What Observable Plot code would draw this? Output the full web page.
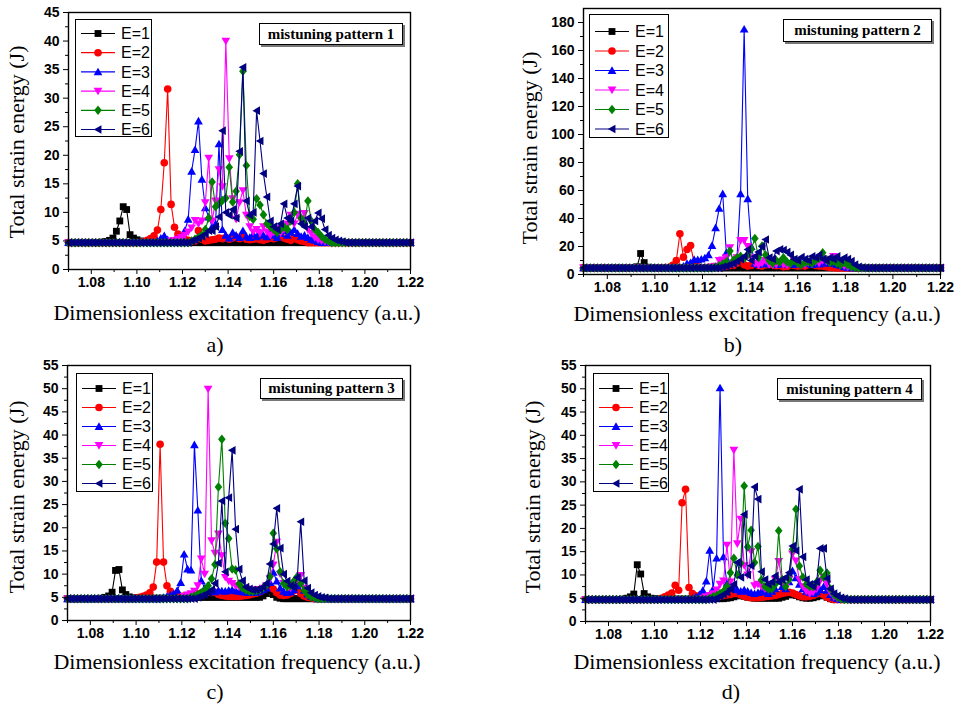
<!DOCTYPE html>
<html><head><meta charset="utf-8">
<script src="https://cdn.jsdelivr.net/npm/d3@7"></script>
<script src="https://cdn.jsdelivr.net/npm/@observablehq/plot@0.6"></script>
<style>
body{margin:0;background:#fff;}
#root{position:relative;width:961px;height:708px;overflow:hidden;background:#fff;}
.abs{position:absolute;}
.ttl{position:absolute;font-family:"Liberation Serif","Times New Roman",serif;font-size:22px;color:#000;white-space:nowrap;transform:translate(-50%,-50%);line-height:1;}
.ytl{transform:translate(-50%,-50%) rotate(-90deg);}
.tag{position:absolute;box-sizing:border-box;font-family:"Liberation Serif","Times New Roman",serif;font-weight:bold;font-size:15px;border:1.3px solid #000;box-shadow:2px 2px 0 #777;background:#fff;display:flex;align-items:center;justify-content:center;white-space:nowrap;}
.leg{position:absolute;box-sizing:border-box;border:1.3px solid #000;background:#fff;}
</style></head><body><div id="root"></div>
<script>
// ---------- data ----------
// frequency sweep: 1.07 → 1.22, step 0.0015 (101 samples)
const fStart = 1.07, fStep = 0.0015, nSamples = 101;
const baseline = 4.7;   // flat response far from resonance
const seriesNames = ["E=1","E=2","E=3","E=4","E=5","E=6"];
const colors = ["#000000","#ff0000","#0000ff","#ff00ff","#008000","#000080"];
const xTicks = [1.08,1.10,1.12,1.14,1.16,1.18,1.20,1.22];
const xMinor = [1.07,1.09,1.11,1.13,1.15,1.17,1.19,1.21];
const yTicks45 = [0,5,10,15,20,25,30,35,40,45];
const yMinor45 = [2.5,7.5,12.5,17.5,22.5,27.5,32.5,37.5,42.5];
const yTicks180 = [0,20,40,60,80,100,120,140,160,180];
const yMinor180 = [10,30,50,70,90,110,130,150,170];
const yTicks55 = [0,5,10,15,20,25,30,35,40,45,50,55];
const yMinor55 = [2.5,7.5,12.5,17.5,22.5,27.5,32.5,37.5,42.5,47.5,52.5];

// panel a (mistuning pattern 1): sample index where each series window starts
const aStart = [10, 22, 26, 30, 36, 36];
const aE1 = [4.8,4.9,5.1,5.5,6.7,8.5,11.0,10.5,6.1,5.5,5.2,5.0,4.9];
const aE2 = [4.9,5.1,5.4,5.9,6.9,10.5,18.7,31.6,11.4,7.4,6.2,5.6,5.3,5.1,5.0,5.0,6.8,5.3,5.0,5.1,5.2,5.3,5.5,5.4,5.6,5.3,5.5,5.7,5.4,5.6,5.3,5.2,5.3,5.4,5.2,5.1,5.3,5.5,5.4,5.6,5.8,5.5,5.3,5.1,5.6,5.2,5.0,4.9];
const aE3 = [5.0,5.5,5.9,5.2,5.0,5.0,5.2,5.5,6.8,8.8,17.2,21.0,26.0,15.8,10.8,9.2,7.5,8.0,22.0,7.0,6.0,5.5,6.5,6.0,5.6,6.8,5.8,5.6,6.2,5.7,6.5,6.0,5.7,6.5,6.0,5.6,6.3,6.8,6.0,6.5,7.0,6.3,5.8,6.0,5.6,5.3,5.1,4.9];
const aE4 = [5.0,5.1,5.3,5.6,6.0,6.6,7.3,8.6,8.0,8.5,11.7,19.5,8.5,12.0,17.5,14.5,40.0,19.4,12.4,8.8,11.7,13.8,9.5,7.5,6.6,7.0,6.4,7.5,6.6,6.0,6.5,7.2,6.4,7.0,8.0,9.5,8.0,9.7,8.5,9.8,7.0,6.3,5.6,5.2,5.0,4.9];
const aE5 = [5.0,5.3,5.6,6.0,7.0,9.0,15.3,11.0,11.5,12.1,12.5,17.9,11.8,13.7,20.1,34.7,18.2,9.3,8.8,12.4,11.3,9.6,8.0,7.5,7.0,6.5,7.0,7.5,7.0,8.5,10.0,15.0,9.0,8.0,12.0,8.5,7.0,6.5,5.8,5.3,5.0];
const aE6 = [5.0,5.2,5.5,5.8,6.2,6.8,6.8,7.5,9.2,24.3,10.0,9.5,10.5,9.0,20.7,35.4,12.0,9.5,10.0,27.8,22.5,16.8,12.7,8.5,7.5,7.0,8.0,11.5,9.0,8.5,11.5,14.6,8.0,7.5,9.0,7.5,8.5,9.9,8.9,7.0,6.0,5.5,5.2,5.0,4.9];

// panel b (mistuning pattern 2)
const bStart = [13, 23, 27, 36, 37, 39];
const bE1 = [4.8,5.0,5.5,15.0,8.5,5.2,4.9];
const bE2 = [5.0,5.2,6.5,10.0,29.1,12.4,17.9,20.7,8.0,5.5,5.0,5.0,5.1,5.2,5.3,5.5,5.8,6.0,6.2,6.5,8.0,10.0,7.0,6.0,6.5,7.5,6.5,6.0,6.8,8.0,7.0,6.2,6.5,5.5,5.8,7.0,6.5,6.0,6.2,6.0,7.0,8.0,6.5,6.0,6.0,5.5,5.0,4.9];
const bE3 = [5.2,6.0,7.9,8.5,10.7,10.5,11.0,11.9,14.0,20.7,33.4,47.2,57.7,15.5,8.0,9.0,12.0,57.7,175.3,54.1,20.0,8.0,7.0,8.5,7.5,9.0,8.0,7.0,8.5,7.5,9.0,8.0,7.0,8.5,7.5,9.0,8.0,7.0,8.5,7.5,9.0,8.0,10.0,8.0,7.0,6.5,5.5,5.0];
const bE4 = [5.5,6.0,10.0,10.5,12.0,19.1,8.0,12.0,24.3,24.3,20.0,12.0,8.0,6.5,8.0,10.0,7.0,6.5,7.0,9.0,7.0,6.5,8.0,10.0,7.5,6.5,7.0,8.5,7.5,9.0,8.0,10.0,9.5,11.0,13.0,9.5,7.0,6.0,5.3,4.9];
const bE5 = [5.3,6.0,7.5,9.0,16.7,10.0,12.0,13.0,11.5,14.0,18.0,25.8,12.0,20.3,14.0,10.0,8.0,10.0,9.0,12.0,9.0,8.0,10.0,8.0,7.0,8.5,9.0,8.0,10.0,11.5,15.5,10.5,8.5,9.5,8.0,7.0,8.5,7.0,5.5,5.0];
const bE6 = [5.5,6.0,7.0,8.0,9.5,11.0,13.0,17.9,10.0,13.0,16.0,20.0,25.0,12.0,11.0,16.7,17.9,17.5,16.0,14.0,11.0,10.0,12.4,11.0,10.0,13.0,12.0,14.0,11.0,10.0,12.0,11.0,13.0,10.5,12.0,11.0,9.5,7.0,5.5,5.0];

// panel c (mistuning pattern 3)
const cStart = [10, 20, 28, 34, 36, 38];
const cE1 = [4.8,5.0,5.3,6.1,10.8,11.0,6.6,5.6,5.1,4.9,4.8,4.8,4.8,4.8,4.8,4.8,4.8,4.8,4.8,4.8,4.8,4.8,4.8,4.8,4.9,4.9,4.9,5.0,5.0,5.0,5.0,5.0,5.0,5.0,5.0,5.0,5.0,5.0,5.0,5.0,5.0,5.0,5.0,5.0,5.0,5.0,5.0,5.3,5.8,6.5,5.6,5.0,4.8];
const cE2 = [4.9,5.0,5.2,5.5,6.0,7.2,12.6,38.0,12.6,7.5,6.3,5.6,5.3,5.2,5.3,5.4,5.5,5.6,5.7,5.9,6.0,6.1,6.2,6.1,5.6,5.4,5.3,5.2,5.2,5.2,5.2,5.3,5.4,5.5,5.7,5.9,6.2,6.6,7.2,7.5,6.8,6.0,5.5,5.4,5.5,5.8,6.4,6.8,5.8,5.3,5.0,4.9];
const cE3 = [5.0,5.2,5.5,5.8,6.5,8.2,14.3,11.1,10.9,37.9,23.8,8.6,7.0,6.5,6.3,6.2,6.5,6.4,6.3,6.5,6.6,6.4,6.3,6.2,6.1,6.0,6.0,6.1,6.3,6.6,7.0,8.2,10.4,8.5,7.0,6.3,6.0,6.2,6.6,7.5,8.0,6.5,5.7,5.2,5.0];
const cE4 = [5.2,5.5,5.8,6.3,7.5,13.3,10.0,49.9,17.2,14.5,18.7,14.0,9.3,8.5,8.0,7.5,7.2,7.0,6.8,6.7,6.6,6.6,6.7,7.0,7.5,9.0,12.0,16.9,10.0,8.0,7.2,7.0,7.6,8.5,9.7,7.0,5.8,5.2,4.9];
const cE5 = [5.0,5.3,5.6,6.0,6.5,7.5,9.0,12.1,28.8,39.1,21.0,17.7,11.1,10.9,7.9,7.0,6.6,6.3,6.3,6.4,6.6,7.0,7.6,9.5,18.8,15.5,10.5,8.0,7.3,7.5,8.5,9.5,8.0,6.5,5.6,5.1,4.9];
const cE6 = [5.0,5.3,5.6,6.0,6.6,8.0,12.4,25.8,10.5,26.5,36.7,19.7,11.1,8.6,7.2,6.8,6.6,6.6,6.8,7.2,8.0,12.2,16.5,24.2,15.6,10.0,8.5,7.5,7.2,9.3,21.3,8.6,7.0,6.0,5.5,5.2,5.0,4.9];

// panel d (mistuning pattern 4)
const dStart = [11, 22, 31, 34, 36, 38];
const dE1 = [4.8,5.0,5.3,5.9,12.2,10.2,6.0,5.3,5.0,4.9,4.8,4.8,4.8,4.8,4.8,4.8,4.8,4.8,4.8,4.8,4.9,4.9,4.9,4.9,4.9,4.9,4.9,4.9,4.9,4.9,5.0,5.1,5.3,5.5,5.6,5.4,5.2,5.1,5.0,5.0,5.0,5.0,5.0,5.0,5.0,5.0,5.2,5.4,5.7,5.9,5.6,5.3,5.1,5.0,5.0,5.1,5.3,5.5,5.6,5.2,4.9];
const dE2 = [5.0,5.3,5.7,6.1,7.8,6.7,25.5,28.4,7.3,6.0,5.5,5.3,5.2,5.2,5.3,5.3,5.4,5.5,5.6,5.7,5.8,6.0,6.0,5.7,5.4,5.2,5.1,5.1,5.1,5.2,5.3,5.4,5.5,5.6,5.8,6.0,6.2,6.3,6.1,5.8,5.5,5.3,5.3,5.4,5.6,5.9,6.1,5.7,5.2,4.9];
const dE3 = [5.0,5.3,5.8,6.7,8.7,15.3,7.0,13.6,50.2,13.9,8.2,7.7,7.0,6.8,6.5,6.8,6.5,6.2,6.0,6.2,6.5,6.3,6.0,6.5,7.0,8.7,7.5,7.0,8.5,10.9,9.4,8.0,7.0,6.5,6.2,6.0,6.3,6.8,7.5,6.7,5.8,5.2,4.9];
const dE4 = [5.0,5.3,5.6,6.0,6.8,8.0,8.7,16.4,8.5,36.8,16.7,22.0,12.0,10.0,15.0,7.7,8.0,7.5,7.0,7.5,8.0,9.0,12.9,8.5,7.5,9.0,14.5,13.0,9.0,7.5,6.5,6.0,6.3,7.0,8.7,9.5,8.0,6.2,5.3,4.9];
const dE5 = [5.0,5.3,5.6,6.0,6.5,7.5,10.5,13.6,10.0,12.5,29.1,16.0,19.6,12.7,16.1,8.9,7.5,7.0,7.0,8.0,19.5,9.0,7.5,9.0,15.5,24.1,11.9,9.5,8.0,7.5,7.5,8.5,11.0,9.5,10.4,7.0,5.8,5.2,4.9];
const dE6 = [5.0,5.4,5.8,6.3,7.0,8.0,12.7,9.5,23.0,10.0,12.0,28.9,26.3,10.7,9.0,8.0,8.5,9.8,8.5,9.0,9.5,10.5,16.2,15.2,28.4,13.9,9.0,8.0,7.5,8.5,15.7,15.7,9.2,7.0,6.0,5.5,5.1,4.9];

// ---------- symbols ----------
function mk(fn){ return {draw(ctx, size){ const r = Math.sqrt(size/Math.PI); fn(ctx, r); }}; }
const symbols = [
  mk((c,r)=>{const s=r*0.9; c.moveTo(-s,-s); c.lineTo(s,-s); c.lineTo(s,s); c.lineTo(-s,s); c.closePath();}),
  mk((c,r)=>{c.moveTo(r,0); c.arc(0,0,r,0,2*Math.PI); c.closePath();}),
  mk((c,r)=>{c.moveTo(0,-1.1*r); c.lineTo(1.15*r,0.9*r); c.lineTo(-1.15*r,0.9*r); c.closePath();}),
  mk((c,r)=>{c.moveTo(0,1.1*r); c.lineTo(1.15*r,-0.9*r); c.lineTo(-1.15*r,-0.9*r); c.closePath();}),
  mk((c,r)=>{c.moveTo(0,-1.25*r); c.lineTo(r,0); c.lineTo(0,1.25*r); c.lineTo(-r,0); c.closePath();}),
  mk((c,r)=>{c.moveTo(-1.1*r,0); c.lineTo(0.9*r,-1.15*r); c.lineTo(0.9*r,1.15*r); c.closePath();})
];
const R = 3.8;

const freq = d3.range(nSamples).map(i => +(fStart + i*fStep).toFixed(4));

function buildRows(starts, series){
  const out = [];
  series.forEach((vals, k) => {
    const pts = freq.map((f, i) => {
      const j = i - starts[k];
      return {f, y: (j >= 0 && j < vals.length) ? vals[j] : baseline};
    });
    out.push(pts);
  });
  return out;
}

const root = document.getElementById("root");

function panel(cfg){
  const rows = buildRows(cfg.starts, cfg.series);
  const marks = [];
  rows.forEach((pts, k) => {
    marks.push(Plot.line(pts, {x:"f", y:"y", stroke: colors[k], strokeWidth: 1.1}));
    marks.push(Plot.dot(pts, {x:"f", y:"y", symbol: symbols[k], r: R, fill: colors[k], stroke: "none"}));
  });
  marks.push(
    Plot.axisX({ticks: xTicks, tickSize: 5, tickPadding: 3, tickFormat: d3.format(".2f"), label: null}),
    Plot.axisX({ticks: xMinor, tickSize: 3, tickFormat: () => "", label: null}),
    Plot.axisY({ticks: cfg.yTicks, tickSize: 5, tickPadding: 4, tickFormat: d => String(d), label: null}),
    Plot.axisY({ticks: cfg.yMinor, tickSize: 3, tickFormat: () => "", label: null}),
    Plot.frame({stroke: "#000", strokeWidth: 1.4})
  );
  const svg = Plot.plot({
    width: cfg.w, height: cfg.h,
    marginLeft: cfg.ml, marginRight: cfg.mr, marginTop: cfg.mt, marginBottom: cfg.mb,
    x: {domain: [1.07, 1.22]},
    y: {domain: cfg.ydom},
    style: {fontFamily: "'Liberation Sans', Arial, sans-serif", fontSize: "14px", fontWeight: "bold", color: "#000", background: "transparent", overflow: "visible"},
    marks
  });
  const holder = document.createElement("div");
  holder.className = "abs";
  holder.style.left = cfg.left + "px"; holder.style.top = cfg.top + "px";
  holder.appendChild(svg);
  root.appendChild(holder);

  // legend
  const lg = cfg.legend;
  const box = document.createElement("div");
  box.className = "leg";
  Object.assign(box.style, {left: lg.x+"px", top: lg.y+"px", width: lg.w+"px", height: lg.h+"px"});
  const s = d3.create("svg").attr("width", lg.w).attr("height", lg.h).style("position","absolute").style("left","-1px").style("top","-1px").style("overflow","visible");
  seriesNames.forEach((name, k) => {
    const yy = lg.y0 + k*lg.dy;
    s.append("line").attr("x1", 6).attr("x2", 40).attr("y1", yy).attr("y2", yy).attr("stroke", colors[k]).attr("stroke-width", 1.2);
    s.append("path").attr("d", d3.symbol(symbols[k], R*R*Math.PI)()).attr("transform", `translate(23,${yy})`).attr("fill", colors[k]);
    s.append("text").attr("x", 46).attr("y", yy).attr("dy", "0.36em").attr("font-family", "'Liberation Sans', Arial, sans-serif").attr("font-size", 16).text(name);
  });
  box.appendChild(s.node());
  root.appendChild(box);

  // tag box
  const tg = cfg.tag;
  const t = document.createElement("div");
  t.className = "tag";
  Object.assign(t.style, {left: tg.x+"px", top: tg.y+"px", width: tg.w+"px", height: tg.h+"px"});
  t.textContent = tg.text;
  root.appendChild(t);

  // titles
  const xt = document.createElement("div");
  xt.className = "ttl"; xt.style.left = cfg.xt[0]+"px"; xt.style.top = cfg.xt[1]+"px";
  xt.textContent = "Dimensionless excitation frequency (a.u.)";
  root.appendChild(xt);
  const yt = document.createElement("div");
  yt.className = "ttl ytl"; yt.style.left = cfg.yt[0]+"px"; yt.style.top = cfg.yt[1]+"px";
  yt.textContent = "Total strain energy (J)";
  root.appendChild(yt);
  const sub = document.createElement("div");
  sub.className = "ttl"; sub.style.left = cfg.sub[0]+"px"; sub.style.top = cfg.sub[1]+"px";
  sub.textContent = cfg.subText;
  root.appendChild(sub);
}

panel({left:0, top:0, w:480, h:300, ml:68, mr:70, mt:12, mb:31, ydom:[0,45], yTicks:yTicks45, yMinor:yMinor45,
  starts:aStart, series:[aE1,aE2,aE3,aE4,aE5,aE6],
  legend:{x:75, y:19, w:77, h:118, y0:14.5, dy:19.2},
  tag:{x:259, y:23, w:144, h:22, text:"mistuning pattern 1"},
  xt:[237,313], yt:[17,142], sub:[215,345], subText:"a)"});
panel({left:480, top:0, w:481, h:300, ml:103, mr:21, mt:8, mb:26, ydom:[0,190], yTicks:yTicks180, yMinor:yMinor180,
  starts:bStart, series:[bE1,bE2,bE3,bE4,bE5,bE6],
  legend:{x:589, y:14, w:80, h:124, y0:17.5, dy:19.5},
  tag:{x:783, y:19, w:149, h:23, text:"mistuning pattern 2"},
  xt:[757,314], yt:[530,148], sub:[733,345], subText:"b)"});
panel({left:0, top:350, w:480, h:300, ml:67, mr:70, mt:15, mb:30, ydom:[0,55], yTicks:yTicks55, yMinor:yMinor55,
  starts:cStart, series:[cE1,cE2,cE3,cE4,cE5,cE6],
  legend:{x:76, y:373, w:77, h:119, y0:15.5, dy:19},
  tag:{x:260, y:378, w:143, h:21, text:"mistuning pattern 3"},
  xt:[237,662], yt:[17,497], sub:[215,692], subText:"c)"});
panel({left:480, top:350, w:481, h:300, ml:105, mr:31, mt:15, mb:29, ydom:[0,55], yTicks:yTicks55, yMinor:yMinor55,
  starts:dStart, series:[dE1,dE2,dE3,dE4,dE5,dE6],
  legend:{x:593, y:373, w:76, h:119, y0:15.5, dy:19},
  tag:{x:777, y:378, w:145, h:22, text:"mistuning pattern 4"},
  xt:[757,662], yt:[533,497], sub:[731,692], subText:"d)"});
</script></body></html>
